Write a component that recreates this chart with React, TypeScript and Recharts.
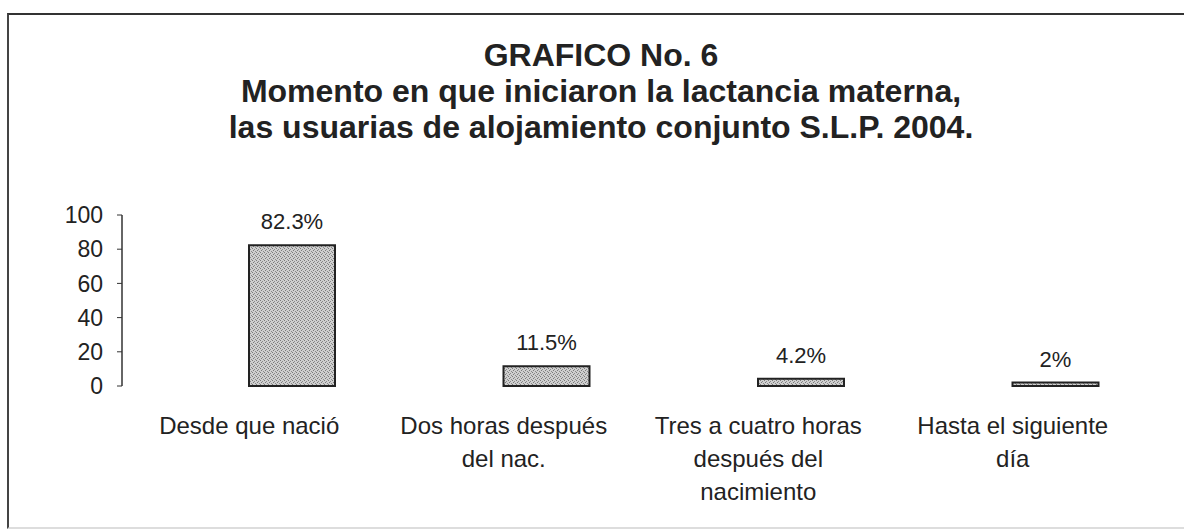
import { BarChart, Bar, XAxis, YAxis, LabelList } from "recharts";

// Excel-style column chart scanned from a report; the blank series keeps the
// bars in the right half of each category slot, as in the original.
const categoryLines = [
  ["Desde que nació"],
  ["Dos horas después", "del nac."],
  ["Tres a cuatro horas", "después del", "nacimiento"],
  ["Hasta el siguiente", "día"],
];
const blankValues = [0, 0, 0, 0];
const percentValues = [82.3, 11.5, 4.2, 2];
const percentLabels = ["82.3%", "11.5%", "4.2%", "2%"];
const yTicks = [0, 20, 40, 60, 80, 100];
const titleLines = [
  "GRAFICO No. 6",
  "Momento en que iniciaron la lactancia materna,",
  "las usuarias de alojamiento conjunto S.L.P. 2004.",
];

const data = categoryLines.map((lines, i) => ({
  name: lines.join(" "),
  blank: blankValues[i],
  value: percentValues[i],
  label: percentLabels[i],
}));
const edgeTicks = [...categoryLines.map((_, i) => i), categoryLines.length];

const FONT = "'Liberation Sans', Arial, sans-serif";
const INK = "#222";

function CategoryTick({ x, y, index }: any) {
  const lines = categoryLines[index] ?? [];
  return (
    <text x={x} y={y + 48} textAnchor="middle" fontSize={24} fontFamily={FONT} fill={INK}>
      {lines.map((line, i) => (
        <tspan key={line} x={x} dy={i === 0 ? 0 : 33}>
          {line}
        </tspan>
      ))}
    </text>
  );
}

export default function App() {
  return (
    <div
      style={{
        position: "absolute",
        left: 0,
        top: 0,
        width: 1184,
        height: 529,
        overflow: "hidden",
        background: "#fff",
        fontFamily: FONT,
      }}
    >
      <svg width={0} height={0} style={{ position: "absolute" }}>
        <defs>
          <pattern id="stipple" width={4} height={4} patternUnits="userSpaceOnUse">
            <rect width={4} height={4} fill="#cfcfcf" />
            <rect x={0} y={0} width={1} height={1} fill="#7a7a7a" />
            <rect x={2} y={1} width={1} height={1} fill="#8a8a8a" />
            <rect x={1} y={2} width={1} height={1} fill="#7a7a7a" />
            <rect x={3} y={3} width={1} height={1} fill="#8a8a8a" />
          </pattern>
        </defs>
      </svg>

      {/* scanned frame */}
      <div
        style={{
          position: "absolute",
          left: 7,
          top: 13,
          width: 1200,
          height: 512,
          borderTop: "2px solid #333",
          borderLeft: "2px solid #444",
          borderBottom: "2px solid #ddd",
        }}
      />

      <div
        style={{
          position: "absolute",
          left: 0,
          top: 37,
          width: 1202,
          textAlign: "center",
          fontWeight: "bold",
          fontSize: 32,
          lineHeight: "36px",
          color: INK,
        }}
      >
        {titleLines.map((t) => (
          <div key={t}>{t}</div>
        ))}
      </div>

      <div style={{ position: "absolute", left: 0, top: 0 }}>
        <BarChart
          width={1184}
          height={529}
          data={data}
          margin={{ top: 215, right: 44, bottom: 13, left: 62 }}
          barGap={0}
          barSize={86}
        >
          <XAxis
            xAxisId="edges"
            type="number"
            domain={[0, categoryLines.length]}
            ticks={edgeTicks}
            tick={false}
            height={0}
            tickSize={7}
            axisLine={{ stroke: "#333", strokeWidth: 1.5 }}
            tickLine={{ stroke: "#333" }}
          />
          <XAxis
            xAxisId="cat"
            dataKey="name"
            height={130}
            interval={0}
            axisLine={false}
            tickLine={false}
            tickSize={0}
            tickMargin={0}
            tick={<CategoryTick />}
          />
          <YAxis
            domain={[0, 100]}
            ticks={yTicks}
            width={60}
            tickSize={5}
            tickMargin={14}
            axisLine={{ stroke: "#333", strokeWidth: 1.5 }}
            tickLine={{ stroke: "#333" }}
            tick={{ fill: INK, fontSize: 23, fontFamily: FONT }}
          />
          <Bar xAxisId="cat" dataKey="blank" fill="none" isAnimationActive={false} />
          <Bar
            xAxisId="cat"
            dataKey="value"
            fill="url(#stipple)"
            stroke="#222"
            strokeWidth={2}
            isAnimationActive={false}
          >
            <LabelList
              dataKey="label"
              position="top"
              offset={16}
              fill={INK}
              fontSize={22}
              fontFamily={FONT}
            />
          </Bar>
        </BarChart>
      </div>
    </div>
  );
}
